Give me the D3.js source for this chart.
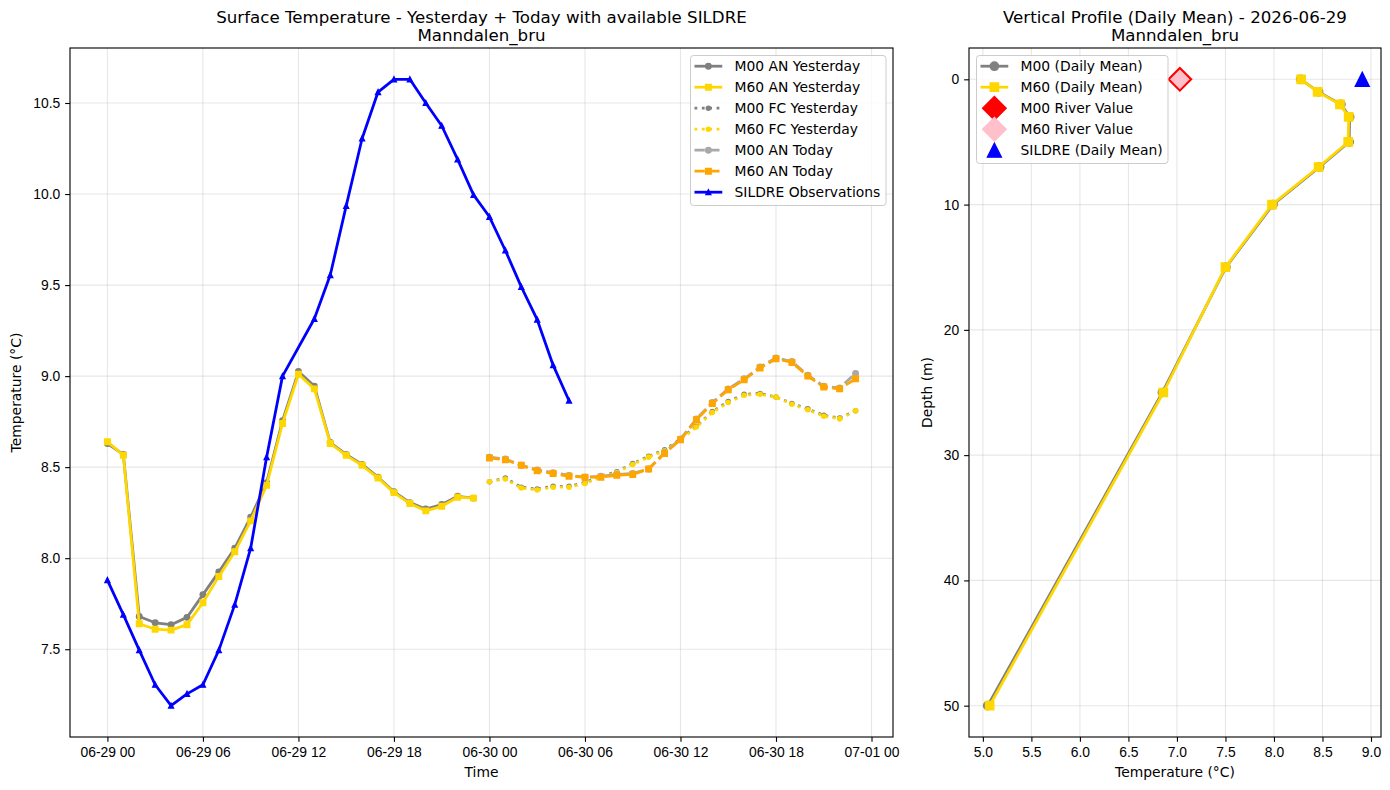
<!DOCTYPE html>
<html>
<head>
<meta charset="utf-8">
<script src="https://cdn.jsdelivr.net/npm/d3@7"></script>
<style>
  body { margin: 0; background: #fff; }
  svg { font-family: "DejaVu Sans", sans-serif; }
</style>
</head>
<body>
<svg id="chart" width="1390" height="790"></svg>
<script>
// ---- data ----
var startTime = "2026-06-29T00:00:00Z";
var stationName = "Manndalen_bru";
var profileDate = "2026-06-29";

// hourly surface temps, yesterday analysis (hours 0..23)
var m00AnYesterday = [8.63, 8.57, 7.68, 7.645, 7.635, 7.675, 7.80, 7.925, 8.055, 8.225, 8.415, 8.755,
                      9.025, 8.945, 8.635, 8.57, 8.515, 8.445, 8.365, 8.305, 8.27, 8.295, 8.34, 8.33];
var m60AnYesterday = [8.64, 8.565, 7.64, 7.61, 7.605, 7.635, 7.755, 7.90, 8.035, 8.205, 8.40, 8.74,
                      9.01, 8.93, 8.63, 8.565, 8.51, 8.44, 8.36, 8.30, 8.26, 8.285, 8.335, 8.33];
// forecast from yesterday and today's analysis (hours 24..47)
var m00FcYesterday = [8.42, 8.44, 8.39, 8.38, 8.395, 8.395, 8.415, 8.45, 8.475, 8.52, 8.56, 8.595,
                      8.655, 8.725, 8.805, 8.86, 8.90, 8.905, 8.885, 8.85, 8.82, 8.785, 8.77, 8.81];
var m60FcYesterday = [8.42, 8.435, 8.385, 8.375, 8.39, 8.39, 8.41, 8.445, 8.47, 8.515, 8.555, 8.59,
                      8.65, 8.72, 8.80, 8.855, 8.895, 8.90, 8.885, 8.845, 8.815, 8.78, 8.765, 8.81];
var m00AnToday = [8.555, 8.545, 8.51, 8.485, 8.47, 8.455, 8.445, 8.45, 8.46, 8.465, 8.49, 8.58,
                  8.655, 8.765, 8.855, 8.93, 8.985, 9.05, 9.10, 9.08, 9.005, 8.945, 8.935, 9.015];
var m60AnToday = [8.55, 8.54, 8.51, 8.48, 8.465, 8.45, 8.445, 8.445, 8.455, 8.46, 8.49, 8.575,
                  8.65, 8.76, 8.85, 8.925, 8.98, 9.045, 9.095, 9.075, 9.00, 8.94, 8.93, 8.985];
// SILDRE observations (hour 12 is missing)
var sildreHours = [0, 1, 2, 3, 4, 5, 6, 7, 8, 9, 10, 11,
                   13, 14, 15, 16, 17, 18, 19, 20, 21, 22, 23,
                   24, 25, 26, 27, 28, 29];
var sildreObs = [7.88, 7.69, 7.495, 7.305, 7.19, 7.255, 7.305, 7.495, 7.745, 8.055, 8.555, 9.0,
                 9.315, 9.555, 9.935, 10.305, 10.56, 10.63, 10.63, 10.5, 10.375, 10.19, 9.995,
                 9.875, 9.69, 9.49, 9.31, 9.06, 8.865];

// vertical profile (daily mean)
var depths = [0, 1, 2, 3, 5, 7, 10, 15, 25, 50];
var m00Profile = [8.275, 8.46, 8.69, 8.78, 8.775, 8.47, 7.99, 7.505, 6.85, 5.05];
var m60Profile = [8.28, 8.45, 8.68, 8.77, 8.765, 8.46, 7.98, 7.50, 6.86, 5.07];
var m00River = 7.03;
var m60River = 7.03;
var sildreMean = 8.91;

var legendLeft = ["M00 AN Yesterday", "M60 AN Yesterday", "M00 FC Yesterday", "M60 FC Yesterday",
                  "M00 AN Today", "M60 AN Today", "SILDRE Observations"];
var legendRight = ["M00 (Daily Mean)", "M60 (Daily Mean)", "M00 River Value", "M60 River Value",
                   "SILDRE (Daily Mean)"];

// ---- helpers ----
var PT = 100 / 72;          // matplotlib points -> px
var fs = 10 * PT;           // tick / legend font size
var t0 = new Date(startTime);
function hourDate(h) { return new Date(+t0 + h * 3600e3); }

function markerPath(shape, s) {
    var r = s / 2;
    if (shape == "circle") {
        return "M" + r + ",0A" + r + "," + r + " 0 1,1 " + (-r) + ",0A" + r + "," + r + " 0 1,1 " + r + ",0Z";
    }
    if (shape == "square") {
        return "M" + (-r) + "," + (-r) + "H" + r + "V" + r + "H" + (-r) + "Z";
    }
    if (shape == "triangle") {
        return "M0," + (-r) + "L" + r + "," + r + "L" + (-r) + "," + r + "Z";
    }
    // diamond, s = side of unrotated square
    var d = s * Math.SQRT1_2;
    return "M0," + (-d) + "L" + d + ",0L0," + d + "L" + (-d) + ",0Z";
}

function drawSeries(g, pts, xs, ys, st) {
    if (st.lw) {
        var line = d3.line()
            .x(function(d) { return xs(d[0]); })
            .y(function(d) { return ys(d[1]); });
        g.append("path")
            .datum(pts)
            .attr("d", line)
            .attr("fill", "none")
            .attr("stroke", st.color)
            .attr("stroke-width", st.lw * PT)
            .attr("stroke-dasharray", st.dash ? st.dash.map(function(v) { return v * st.lw * PT; }).join(",") : null)
            .attr("stroke-linejoin", "round");
    }
    g.selectAll(null)
        .data(pts)
        .enter()
        .append("path")
        .attr("transform", function(d) { return "translate(" + xs(d[0]) + "," + ys(d[1]) + ")"; })
        .attr("d", markerPath(st.marker, st.ms * PT))
        .attr("fill", st.fill || st.color)
        .attr("stroke", st.edge || st.color)
        .attr("stroke-width", PT);
}

function legendSample(g, x, y, st) {
    if (st.lw) {
        g.append("line")
            .attr("x1", x).attr("x2", x + 2 * fs)
            .attr("y1", y).attr("y2", y)
            .attr("stroke", st.color)
            .attr("stroke-width", st.lw * PT)
            .attr("stroke-dasharray", st.dash ? st.dash.map(function(v) { return v * st.lw * PT; }).join(",") : null);
    }
    g.append("path")
        .attr("transform", "translate(" + (x + fs) + "," + y + ")")
        .attr("d", markerPath(st.marker, st.ms * PT))
        .attr("fill", st.fill || st.color)
        .attr("stroke", st.edge || st.color)
        .attr("stroke-width", PT);
}

function drawLegend(svg, x, y, w, h, labels, styles) {
    var g = svg.append("g");
    g.append("rect")
        .attr("x", x).attr("y", y).attr("width", w).attr("height", h)
        .attr("rx", 3)
        .attr("fill", "white").attr("fill-opacity", 0.8)
        .attr("stroke", "#cccccc").attr("stroke-width", 1);
    labels.forEach(function(lab, i) {
        var cy = y + 10.7 + i * 21;
        legendSample(g, x + 4, cy, styles[i]);
        g.append("text")
            .attr("x", x + 44)
            .attr("y", cy)
            .attr("dy", "0.36em")
            .attr("font-size", fs)
            .text(lab);
    });
}

function padExtent(vals) {
    var e = d3.extent(vals);
    var p = (e[1] - e[0]) * 0.05;
    return [e[0] - p, e[1] + p];
}

function styleAxis(g) {
    g.select(".domain").remove();
    g.selectAll(".tick line").attr("stroke", "#000").attr("stroke-width", 0.8 * PT);
    g.selectAll(".tick text").attr("font-size", fs).attr("fill", "#000");
}

var svg = d3.select("#chart");

// ======== LEFT: surface temperature time series ========
var L = { x0: 70, x1: 893, y0: 48, y1: 737 };

var xScale = d3.scaleUtc()
    .domain([hourDate(-47 * 0.05), hourDate(47 * 1.05)])
    .range([L.x0, L.x1]);

var allSurface = [].concat(m00AnYesterday, m60AnYesterday, m00FcYesterday, m60FcYesterday,
                           m00AnToday, m60AnToday, sildreObs);
var yScale = d3.scaleLinear()
    .domain(padExtent(allSurface))
    .range([L.y1, L.y0]);

var xTicks = xScale.ticks(d3.utcHour.every(6));
var yTicks = yScale.ticks(6);

var gl = svg.append("g");
// grid
gl.selectAll(null).data(xTicks).enter().append("line")
    .attr("x1", function(d) { return xScale(d); }).attr("x2", function(d) { return xScale(d); })
    .attr("y1", L.y0).attr("y2", L.y1)
    .attr("stroke", "#b0b0b0").attr("stroke-opacity", 0.3).attr("stroke-width", 0.8 * PT);
gl.selectAll(null).data(yTicks).enter().append("line")
    .attr("y1", function(d) { return yScale(d); }).attr("y2", function(d) { return yScale(d); })
    .attr("x1", L.x0).attr("x2", L.x1)
    .attr("stroke", "#b0b0b0").attr("stroke-opacity", 0.3).attr("stroke-width", 0.8 * PT);

function hourly(vals, offset) {
    return vals.map(function(v, i) { return [hourDate(offset + i), v]; });
}

var leftStyles = [
    { color: "gray", lw: 2, marker: "circle", ms: 4 },
    { color: "gold", lw: 2, marker: "square", ms: 4 },
    { color: "gray", lw: 2, dash: [1, 1.65], marker: "circle", ms: 3 },
    { color: "gold", lw: 2, dash: [1, 1.65], marker: "circle", ms: 3 },
    { color: "darkgray", lw: 2, dash: [3.7, 1.6], marker: "circle", ms: 4 },
    { color: "orange", lw: 2, dash: [3.7, 1.6], marker: "square", ms: 4 },
    { color: "blue", lw: 2, marker: "triangle", ms: 3.5 }
];

drawSeries(gl, hourly(m00AnYesterday, 0), xScale, yScale, leftStyles[0]);
drawSeries(gl, hourly(m60AnYesterday, 0), xScale, yScale, leftStyles[1]);
drawSeries(gl, hourly(m00FcYesterday, 24), xScale, yScale, leftStyles[2]);
drawSeries(gl, hourly(m60FcYesterday, 24), xScale, yScale, leftStyles[3]);
drawSeries(gl, hourly(m00AnToday, 24), xScale, yScale, leftStyles[4]);
drawSeries(gl, hourly(m60AnToday, 24), xScale, yScale, leftStyles[5]);
drawSeries(gl, sildreObs.map(function(v, i) { return [hourDate(sildreHours[i]), v]; }),
    xScale, yScale, leftStyles[6]);

// axes
svg.append("g")
    .attr("transform", "translate(0," + L.y1 + ")")
    .call(d3.axisBottom(xScale).tickValues(xTicks).tickFormat(d3.utcFormat("%m-%d %H"))
        .tickSize(3.5 * PT).tickPadding(3.5 * PT))
    .call(styleAxis);
svg.append("g")
    .attr("transform", "translate(" + L.x0 + ",0)")
    .call(d3.axisLeft(yScale).tickValues(yTicks).tickFormat(d3.format(".1f"))
        .tickSize(3.5 * PT).tickPadding(3.5 * PT))
    .call(styleAxis);
svg.append("rect")
    .attr("x", L.x0).attr("y", L.y0).attr("width", L.x1 - L.x0).attr("height", L.y1 - L.y0)
    .attr("fill", "none").attr("stroke", "#000").attr("stroke-width", 0.8 * PT);

svg.append("text").attr("x", (L.x0 + L.x1) / 2).attr("y", 777)
    .attr("text-anchor", "middle").attr("font-size", fs).text("Time");
svg.append("text").attr("transform", "translate(21," + (L.y0 + L.y1) / 2 + ") rotate(-90)")
    .attr("text-anchor", "middle").attr("font-size", fs).text("Temperature (°C)");
svg.append("text").attr("x", (L.x0 + L.x1) / 2).attr("y", 23)
    .attr("text-anchor", "middle").attr("font-size", 12 * PT)
    .text("Surface Temperature - Yesterday + Today with available SILDRE");
svg.append("text").attr("x", (L.x0 + L.x1) / 2).attr("y", 41)
    .attr("text-anchor", "middle").attr("font-size", 12 * PT)
    .text(stationName);

drawLegend(svg, 690.5, 55.5, 195.5, 150, legendLeft, leftStyles);

// ======== RIGHT: vertical profile ========
var R = { x0: 969, x1: 1381, y0: 48, y1: 737 };

var allProfile = [].concat(m00Profile, m60Profile, [m00River, m60River, sildreMean]);
var xProf = d3.scaleLinear()
    .domain(padExtent(allProfile))
    .range([R.x0, R.x1]);
var yProf = d3.scaleLinear()
    .domain(padExtent(depths))
    .range([R.y0, R.y1]);

var xpTicks = xProf.ticks(10);
var ypTicks = yProf.ticks(6);

var gr = svg.append("g");
gr.selectAll(null).data(xpTicks).enter().append("line")
    .attr("x1", function(d) { return xProf(d); }).attr("x2", function(d) { return xProf(d); })
    .attr("y1", R.y0).attr("y2", R.y1)
    .attr("stroke", "#b0b0b0").attr("stroke-opacity", 0.3).attr("stroke-width", 0.8 * PT);
gr.selectAll(null).data(ypTicks).enter().append("line")
    .attr("y1", function(d) { return yProf(d); }).attr("y2", function(d) { return yProf(d); })
    .attr("x1", R.x0).attr("x2", R.x1)
    .attr("stroke", "#b0b0b0").attr("stroke-opacity", 0.3).attr("stroke-width", 0.8 * PT);

var rightStyles = [
    { color: "gray", lw: 2, marker: "circle", ms: 6 },
    { color: "gold", lw: 2, marker: "square", ms: 6 },
    { color: "red", marker: "diamond", ms: 12 },
    { color: "pink", marker: "diamond", ms: 12 },
    { color: "blue", marker: "triangle", ms: 10 }
];

function profilePts(vals) {
    return vals.map(function(v, i) { return [v, depths[i]]; });
}
drawSeries(gr, profilePts(m00Profile), xProf, yProf, rightStyles[0]);
drawSeries(gr, profilePts(m60Profile), xProf, yProf, rightStyles[1]);
drawSeries(gr, [[m00River, 0]], xProf, yProf, { color: "red", marker: "diamond", ms: 12 });
drawSeries(gr, [[m60River, 0]], xProf, yProf, { color: "pink", edge: "red", marker: "diamond", ms: 11 });
drawSeries(gr, [[sildreMean, 0]], xProf, yProf, rightStyles[4]);

svg.append("g")
    .attr("transform", "translate(0," + R.y1 + ")")
    .call(d3.axisBottom(xProf).tickValues(xpTicks).tickFormat(d3.format(".1f"))
        .tickSize(3.5 * PT).tickPadding(3.5 * PT))
    .call(styleAxis);
svg.append("g")
    .attr("transform", "translate(" + R.x0 + ",0)")
    .call(d3.axisLeft(yProf).tickValues(ypTicks).tickFormat(d3.format("d"))
        .tickSize(3.5 * PT).tickPadding(3.5 * PT))
    .call(styleAxis);
svg.append("rect")
    .attr("x", R.x0).attr("y", R.y0).attr("width", R.x1 - R.x0).attr("height", R.y1 - R.y0)
    .attr("fill", "none").attr("stroke", "#000").attr("stroke-width", 0.8 * PT);

svg.append("text").attr("x", (R.x0 + R.x1) / 2).attr("y", 777)
    .attr("text-anchor", "middle").attr("font-size", fs).text("Temperature (°C)");
svg.append("text").attr("transform", "translate(932," + (R.y0 + R.y1) / 2 + ") rotate(-90)")
    .attr("text-anchor", "middle").attr("font-size", fs).text("Depth (m)");
svg.append("text").attr("x", (R.x0 + R.x1) / 2).attr("y", 23)
    .attr("text-anchor", "middle").attr("font-size", 12 * PT)
    .text("Vertical Profile (Daily Mean) - " + profileDate);
svg.append("text").attr("x", (R.x0 + R.x1) / 2).attr("y", 41)
    .attr("text-anchor", "middle").attr("font-size", 12 * PT)
    .text(stationName);

drawLegend(svg, 976.5, 55.5, 191.5, 108, legendRight, rightStyles);
</script>
</body>
</html>
